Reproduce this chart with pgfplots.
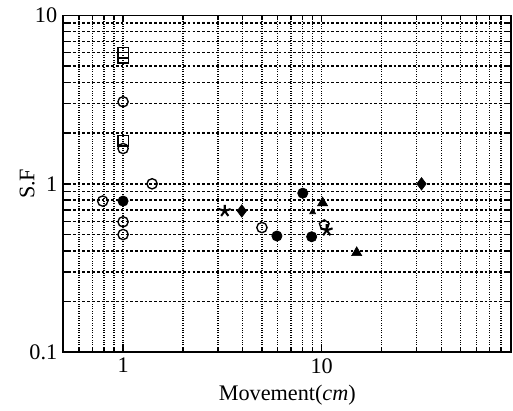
\documentclass[border=0pt]{standalone}
\usepackage{fontspec}
\setmainfont{Liberation Serif}
\usepackage{pgfplots}
\pgfplotsset{compat=1.18}
\begin{document}
\begin{tikzpicture}
\begin{loglogaxis}[
    scale only axis,
    width=262pt, height=197pt,
    xmin=0.5, xmax=90,
    ymin=0.1, ymax=10,
    xtick={1,10}, xticklabels={1,10},
    ytick={0.1,1,10}, yticklabels={0.1,1,10},
    minor xtick={0.5,0.6,0.7,0.8,0.9,2,3,4,5,6,7,8,9,20,30,40,50,60,70,80,90},
    minor ytick={0.2,0.3,0.4,0.5,0.6,0.7,0.8,0.9,2,3,4,5,6,7,8,9},
    grid=both,
    x grid style={black, densely dotted, line width=0.8pt},
    y grid style={black, dash pattern=on 1.6pt off 1.2pt, line width=0.8pt},
    tick style={black, line width=0.8pt},
    major tick length=4pt, minor tick length=3pt,
    tick align=inside,
    axis line style={line width=1pt},
    tick label style={font=\fontsize{13}{15}\selectfont},
    label style={font=\fontsize{13}{15}\selectfont},
    xlabel={Movement(\textit{cm})},
    ylabel={S.F},
    xlabel style={yshift=0pt},
    ylabel style={yshift=-10pt},
    /pgf/number format/assume math mode=true,
    mark size=3pt,
]
% open squares
\addplot[only marks, mark=square, thick] coordinates {(1,5.6) (1,6.0) (1,1.8)};
% open circles
\addplot[only marks, mark=o, thick] coordinates {(1,3.07) (1,1.62) (1.4,1.0) (0.79,0.79) (1,0.595) (1,0.50) (5.0,0.55)};
% filled circles
\addplot[only marks, mark=*] coordinates {(1,0.79) (5.95,0.49) (8.9,0.485) (8.03,0.88)};
% filled diamonds
\addplot[only marks, mark=diamond*, mark size=3.6pt] coordinates {(3.96,0.69) (31.8,1.0)};
% stars
\addplot[only marks, mark=star, very thick, mark size=3.6pt] coordinates {(3.25,0.69) (10.6,0.53)};
\addplot[only marks, mark=pentagon, thick] coordinates {(10.3,0.57)};
% triangles
\addplot[only marks, mark=triangle*, mark size=3.4pt] coordinates {(10.1,0.77) (15,0.39)};
\addplot[only marks, mark=triangle*, mark size=2pt] coordinates {(9.0,0.68)};
\end{loglogaxis}
% margins as in the reference
\path (current axis.south west) ++(-37pt,-33pt) (current axis.north east) ++(1pt,9pt);
\end{tikzpicture}
\end{document}
